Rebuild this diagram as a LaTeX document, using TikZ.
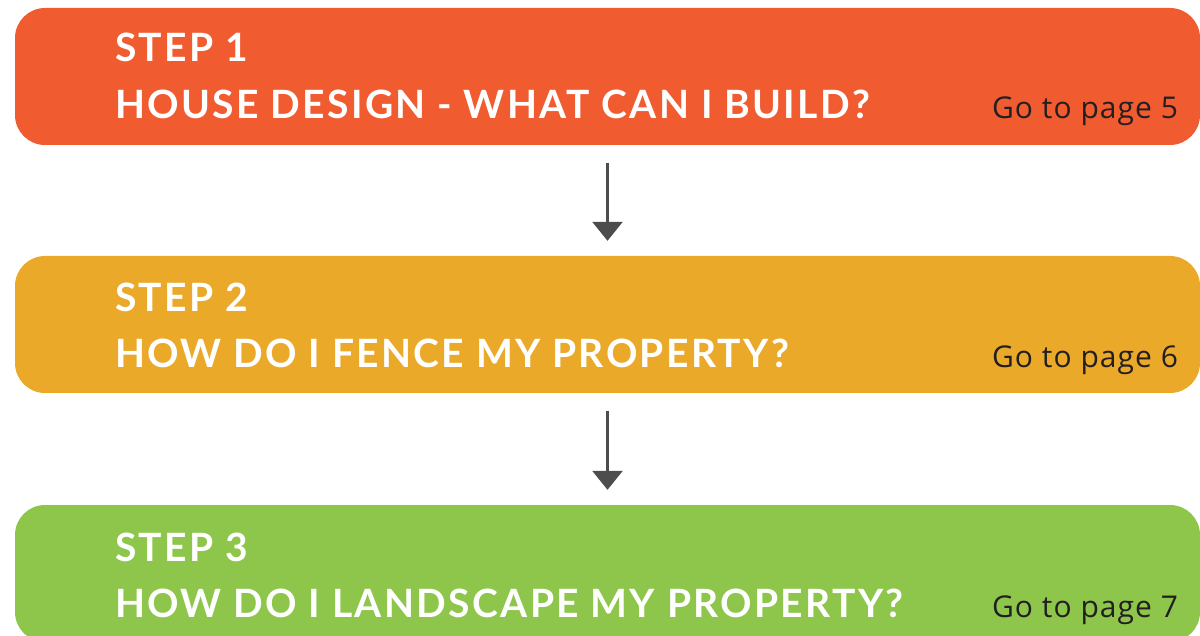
\documentclass[tikz,border=0pt]{standalone}
\usepackage{fontspec}
\setmainfont{Lato}
\newfontfamily\headfont[LetterSpace=6]{Lato Bold}
\newfontfamily\pagefont[LetterSpace=3.5]{Open Sans}
\usetikzlibrary{positioning,calc,arrows.meta}

\definecolor{stepone}{RGB}{241,91,48}
\definecolor{steptwo}{RGB}{234,169,41}
\definecolor{stepthree}{RGB}{141,198,75}
\definecolor{arrowgrey}{RGB}{77,77,77}
\definecolor{pagetext}{RGB}{35,31,32}

\tikzset{
  stepbox/.style={rectangle, rounded corners=30pt, inner sep=0pt,
    minimum width=1185pt, minimum height=137pt},
  steptitle/.style={anchor=base west, inner sep=0pt, text=white,
    font=\headfont\fontsize{39}{39}\selectfont},
  pageref/.style={anchor=base east, inner sep=0pt, text=pagetext,
    font=\pagefont\fontsize{30}{30}\selectfont},
  nextstep/.style={draw=arrowgrey, line width=3pt,
    -{Triangle[width=30pt,length=19pt]}, shorten <=18pt, shorten >=15pt}
}

\begin{document}
\begin{tikzpicture}[x=1pt,y=-1pt]
  \useasboundingbox (0,0) rectangle (1200,636);
  % the three steps
  \node[stepbox, fill=stepone] (box1) at (607.5,76.5) {};
  \node[stepbox, fill=steptwo] (box2) at (607.5,324.5) {};
  \node[stepbox, fill=stepthree] (box3) at (607.5,573.5) {};
  % titles
  \node[steptitle] (num1) at ([shift={(100,54)}]box1.north west) {STEP 1};
  \node[steptitle] (ask1) at ([shift={(100,111)}]box1.north west) {HOUSE DESIGN - WHAT CAN I BUILD?};
  \node[pageref] (page1) at ([shift={(-22,111)}]box1.north east) {Go to page 5};
  \node[steptitle] (num2) at ([shift={(100,56)}]box2.north west) {STEP 2};
  \node[steptitle] (ask2) at ([shift={(100,112)}]box2.north west) {HOW DO I FENCE MY PROPERTY?};
  \node[pageref] (page2) at ([shift={(-22,112)}]box2.north east) {Go to page 6};
  \node[steptitle] (num3) at ([shift={(100,57)}]box3.north west) {STEP 3};
  \node[steptitle] (ask3) at ([shift={(100,113)}]box3.north west) {HOW DO I LANDSCAPE MY PROPERTY?};
  \node[pageref] (page3) at ([shift={(-22,113)}]box3.north east) {Go to page 7};
  % arrows
  \draw[nextstep] (box1.south) -- (box2.north);
  \draw[nextstep] (box2.south) -- (box3.north);
\end{tikzpicture}
\end{document}
